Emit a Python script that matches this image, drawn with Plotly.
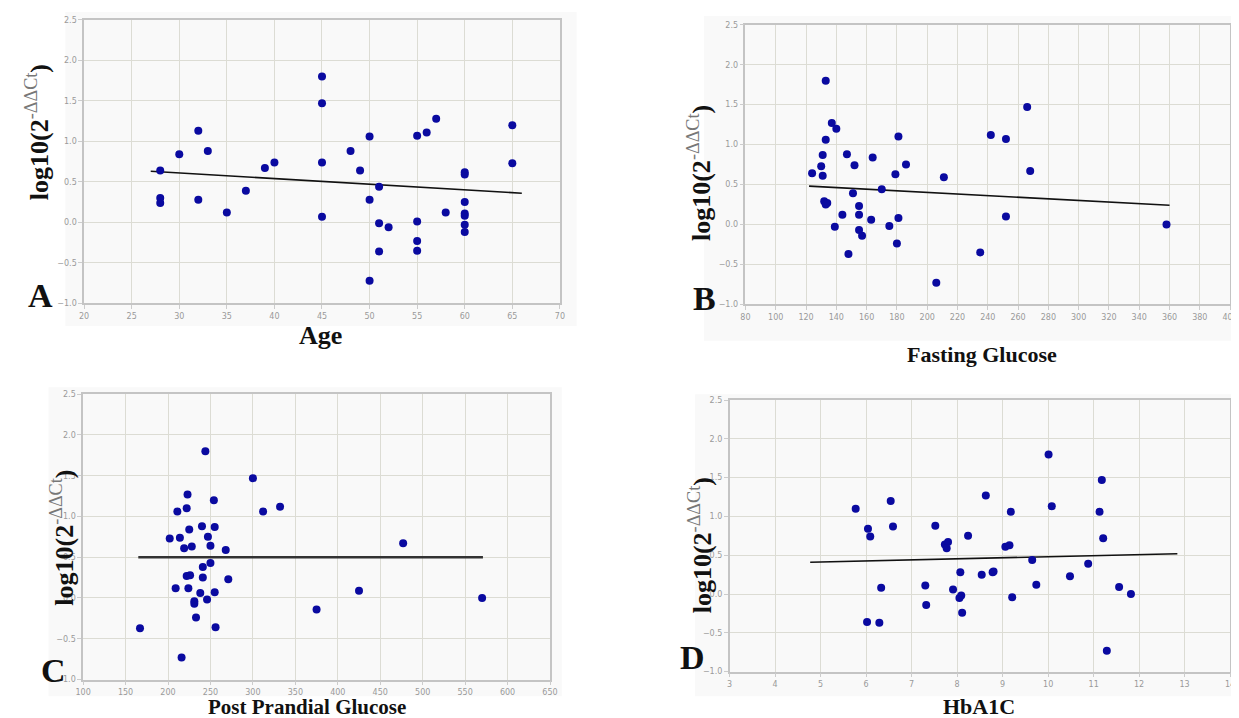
import plotly.graph_objects as go

# ---------------- data ----------------
age_x = [28, 28, 28, 30, 32, 32, 33, 35, 37, 39, 40, 45, 45, 45, 45, 48, 49, 50, 50, 50,
         51, 51, 51, 52, 55, 56, 57, 55, 55, 55, 58, 60, 60, 60, 60, 60, 60, 60, 65, 65]
age_y = [0.64, 0.30, 0.24, 0.84, 1.13, 0.28, 0.88, 0.12, 0.39, 0.67, 0.74, 1.80, 1.47, 0.74, 0.07,
         0.88, 0.64, 1.06, 0.28, -0.72, 0.44, -0.01, -0.36, -0.06, 1.07, 1.11, 1.28, 0.01, -0.23,
         -0.35, 0.12, 0.62, 0.59, 0.25, 0.11, 0.08, -0.03, -0.12, 1.20, 0.73]
age_trend_x = [27, 66]
age_trend_y = [0.63, 0.36]

fg_x = [133, 137, 140, 133, 131, 147, 130, 124, 131, 152, 164, 181, 186, 179, 151, 170, 132, 134,
        133, 155, 144, 155, 163, 181, 139, 155, 157, 175, 180, 148, 206, 211, 235, 242, 252, 252,
        266, 268, 358]
fg_y = [1.80, 1.27, 1.20, 1.06, 0.87, 0.88, 0.73, 0.64, 0.61, 0.74, 0.84, 1.10, 0.75, 0.63, 0.39,
        0.44, 0.29, 0.27, 0.25, 0.23, 0.12, 0.12, 0.06, 0.08, -0.03, -0.07, -0.14, -0.02, -0.24,
        -0.37, -0.73, 0.59, -0.35, 1.12, 1.07, 0.10, 1.47, 0.67, 0.00]
fg_trend_x = [122, 360]
fg_trend_y = [0.48, 0.24]

pp_x = [244, 223, 222, 211, 254, 300, 312, 332, 225, 240, 255, 202, 214, 247, 219, 228, 250, 268,
        241, 250, 222, 226, 241, 271, 209, 224, 238, 255, 231, 231, 246, 233, 256, 167, 216, 375,
        425, 477, 570]
pp_y = [1.80, 1.27, 1.10, 1.06, 1.20, 1.47, 1.06, 1.12, 0.84, 0.88, 0.87, 0.73, 0.74, 0.75, 0.61,
        0.63, 0.64, 0.59, 0.38, 0.43, 0.27, 0.28, 0.25, 0.23, 0.12, 0.12, 0.06, 0.07, -0.04, -0.07,
        -0.02, -0.24, -0.36, -0.37, -0.73, -0.14, 0.09, 0.67, 0.00]
pp_trend_x = [165, 571]
pp_trend_y = [0.50, 0.50]

hb_x = [5.77, 6.54, 6.04, 6.59, 6.09, 6.33, 6.02, 6.29, 7.30, 7.32, 7.52, 10.01, 11.18, 8.63,
        10.08, 9.18, 11.13, 8.24, 11.21, 7.73, 7.80, 7.77, 9.06, 9.15, 9.65, 10.88, 8.07, 8.54,
        8.78, 8.80, 10.48, 7.91, 8.09, 8.05, 9.74, 9.21, 11.56, 11.82, 8.11, 11.29]
hb_y = [1.10, 1.20, 0.84, 0.87, 0.74, 0.08, -0.36, -0.37, 0.11, -0.14, 0.88, 1.80, 1.47, 1.27,
        1.13, 1.06, 1.06, 0.75, 0.72, 0.64, 0.67, 0.59, 0.61, 0.63, 0.44, 0.39, 0.28, 0.25, 0.28,
        0.29, 0.23, 0.06, -0.02, -0.05, 0.12, -0.04, 0.09, 0.00, -0.24, -0.73]
hb_trend_x = [4.77, 12.84]
hb_trend_y = [0.41, 0.52]

panel_letters = ["A", "B", "C", "D"]
x_titles = ["Age", "Fasting Glucose", "Post Prandial Glucose", "HbA1C"]
x_ranges = [[20, 70], [80, 400], [100, 650], [3, 14]]
x_dticks = [5, 20, 50, 1]
y_range = [-1.0, 2.5]

# ---------------- layout helpers ----------------
W, H = 1239, 718


def fx(px):
    return px / W


def fy(py):
    return 1 - py / H


# plot-area pixel boxes: (left, top, right, bottom)
boxes = [(69, 8, 551, 295), (739, 13, 1230, 296), (68, 387, 541, 676), (723, 393, 1230, 668)]
# light widget backgrounds
widgets = [(50, 0, 568, 318), (697, 4, 1239, 333), (33, 380, 553, 693), (688, 387, 1239, 693)]

series = [(age_x, age_y, age_trend_x, age_trend_y),
          (fg_x, fg_y, fg_trend_x, fg_trend_y),
          (pp_x, pp_y, pp_trend_x, pp_trend_y),
          (hb_x, hb_y, hb_trend_x, hb_trend_y)]

fig = go.Figure()
layout_axes = {}
shapes = []
annotations = []

ytitle_pos = [(22, 122), (693, 163), (47, 532), (693, 540)]
letter_pos = [(25, 287), (698, 290), (38, 667), (685, 654)]
# (x centre, y, font size, yanchor)
xtitle_pos = [(308, 328, 26, "middle"), (979, 347, 22, "middle"),
              (295, 717, 21, "bottom"), (976, 717, 22, "bottom")]

ytitle_text = ("<b>log10(2</b><sup><span style='color:#777'>-ΔΔCt</span></sup><b>)</b>")

for i, (xs, ys, tx, ty) in enumerate(series):
    n = "" if i == 0 else str(i + 1)
    xa, ya = "x" + n, "y" + n
    l, t, r, b = boxes[i]
    wl, wt, wr, wb = widgets[i]
    shapes.append(dict(type="rect", xref="paper", yref="paper", x0=fx(wl), x1=fx(wr),
                       y0=fy(wb), y1=fy(wt), fillcolor="#f9f9f9", line=dict(width=0),
                       layer="below"))
    fig.add_trace(go.Scatter(x=tx, y=ty, mode="lines", xaxis=xa, yaxis=ya,
                             line=dict(color="#333333" if i == 2 else "#111111",
                                       width=2.6 if i == 2 else 1.6),
                             showlegend=False, hoverinfo="skip"))
    fig.add_trace(go.Scatter(x=xs, y=ys, mode="markers", xaxis=xa, yaxis=ya,
                             marker=dict(color="#0a0aa0", size=8, line=dict(width=0)),
                             showlegend=False))
    common = dict(showgrid=True, gridcolor="#dcdcd4", gridwidth=1, zeroline=False,
                  showline=True, linecolor="#c4c4c4", linewidth=1.5, mirror=True,
                  ticks="outside", ticklen=4, tickcolor="#cccccc",
                  tickfont=dict(family="DejaVu Sans", size=8, color="#9a9a9a"))
    layout_axes["xaxis" + n] = dict(common, domain=[fx(l), fx(r)], range=x_ranges[i],
                                    dtick=x_dticks[i], tick0=x_ranges[i][0], anchor=ya)
    layout_axes["yaxis" + n] = dict(common, domain=[fy(b), fy(t)], range=y_range, dtick=0.5,
                                    tick0=-1.0, tickformat=".1f", anchor=xa)
    # y title
    px, py = ytitle_pos[i]
    annotations.append(dict(xref="paper", yref="paper", x=fx(px), y=fy(py), text=ytitle_text,
                            textangle=-90, showarrow=False, xanchor="center", yanchor="middle",
                            font=dict(family="Liberation Serif", size=26, color="#111111")))
    # panel letter
    px, py = letter_pos[i]
    annotations.append(dict(xref="paper", yref="paper", x=fx(px), y=fy(py),
                            text="<b>" + panel_letters[i] + "</b>", showarrow=False,
                            xanchor="center", yanchor="middle",
                            font=dict(family="Liberation Serif", size=34, color="#111111")))
    # x title
    px, py, fs, yanc = xtitle_pos[i]
    annotations.append(dict(xref="paper", yref="paper", x=fx(px), y=fy(py),
                            text="<b>" + x_titles[i] + "</b>", showarrow=False,
                            xanchor="center", yanchor=yanc, borderpad=0,
                            font=dict(family="Liberation Serif", size=fs, color="#111111")))

fig.update_layout(width=W, height=H, margin=dict(l=0, r=0, t=0, b=0),
                  paper_bgcolor="white", plot_bgcolor="#fdfcf3",
                  shapes=shapes, annotations=annotations, **layout_axes)

fig.write_html("out.html")
